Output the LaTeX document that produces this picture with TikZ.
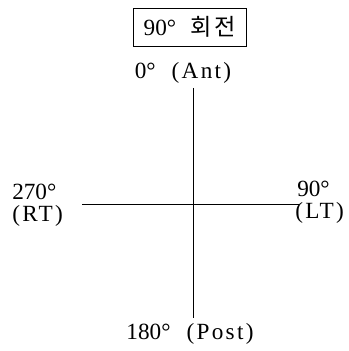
\documentclass[tikz,border=0pt]{standalone}
\usepackage{fontspec}
\setmainfont{Liberation Serif}
\newfontfamily\kofont{Noto Sans CJK KR}
\newcommand{\wide}[1]{{\addfontfeature{LetterSpace=10}#1}}
\begin{document}
\begin{tikzpicture}[x=0.25mm, y=-0.25mm,
    lbl/.style={font=\fontsize{16.5}{15.5}\selectfont, inner sep=0pt},
    axis/.style={line width=0.6pt}]
  \useasboundingbox (0,0) rectangle (348,351);
  % title
  \node[lbl, draw, line width=0.6pt, minimum width=113*0.25mm,
    minimum height=38*0.25mm] (title) at (190,27)
    {90\textdegree\hspace{3.5mm}{\kofont\addfontfeature{LetterSpace=15}회전}};
  % labels at the four ends
  \node[lbl] (ant) at (183,73) {0\textdegree\hspace{4mm}\wide{(Ant)}};
  \node[lbl] (post) at (190,334) {180\textdegree\hspace{4mm}\wide{(Post)}};
  \node[lbl, align=left, anchor=west] (rt) at (12,205) {270\textdegree\\\wide{(RT)}};
  \node[lbl, align=left, anchor=west] (lt) at (295,202) {\hspace{0.5mm}90\textdegree\\\wide{(LT)}};
  % axes
  \coordinate (top) at (193,88);
  \coordinate (bottom) at (193,318);
  \coordinate (left) at (82,204);
  \coordinate (right) at (299,204);
  \draw[axis] (top) -- (bottom);
  \draw[axis] (left) -- (right);
\end{tikzpicture}
\end{document}
